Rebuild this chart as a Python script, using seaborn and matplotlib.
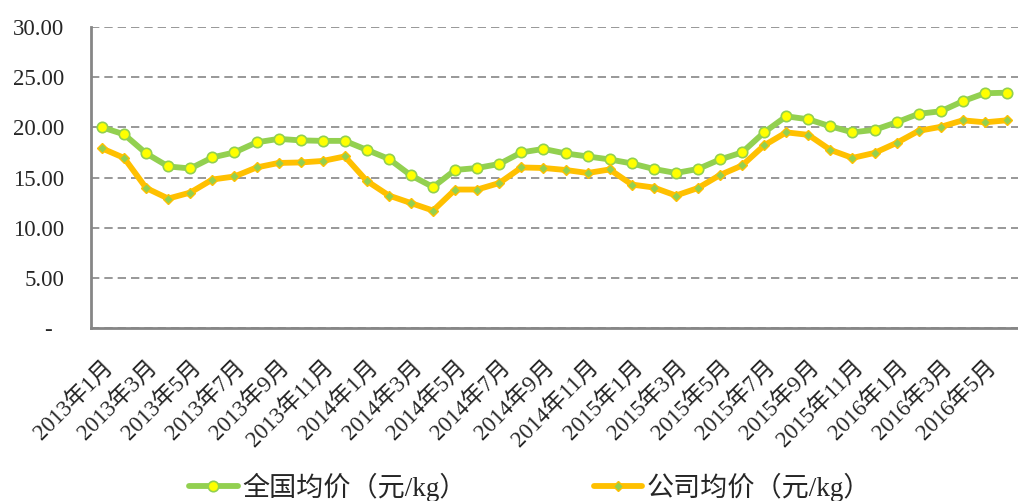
import matplotlib
matplotlib.use("Agg")
import matplotlib.pyplot as plt
import seaborn as sns
import pandas as pd
from matplotlib.lines import Line2D

months = [
    "2013年1月", "2013年2月", "2013年3月", "2013年4月", "2013年5月", "2013年6月",
    "2013年7月", "2013年8月", "2013年9月", "2013年10月", "2013年11月", "2013年12月",
    "2014年1月", "2014年2月", "2014年3月", "2014年4月", "2014年5月", "2014年6月",
    "2014年7月", "2014年8月", "2014年9月", "2014年10月", "2014年11月", "2014年12月",
    "2015年1月", "2015年2月", "2015年3月", "2015年4月", "2015年5月", "2015年6月",
    "2015年7月", "2015年8月", "2015年9月", "2015年10月", "2015年11月", "2015年12月",
    "2016年1月", "2016年2月", "2016年3月", "2016年4月", "2016年5月", "2016年6月",
]
national = [20.0, 19.3, 17.4, 16.1, 15.9, 17.0, 17.5, 18.5, 18.85, 18.7, 18.65, 18.65,
            17.75, 16.85, 15.2, 14.05, 15.75, 15.95, 16.35, 17.5, 17.85, 17.4, 17.1, 16.8,
            16.4, 15.85, 15.45, 15.85, 16.8, 17.5, 19.5, 21.1, 20.8, 20.1, 19.5, 19.75,
            20.5, 21.35, 21.6, 22.6, 23.4, 23.45]
company = [17.9, 16.95, 13.95, 12.9, 13.5, 14.8, 15.1, 16.0, 16.45, 16.5, 16.65, 17.1,
           14.65, 13.2, 12.45, 11.7, 13.8, 13.8, 14.45, 16.0, 15.95, 15.75, 15.45, 15.8,
           14.3, 14.0, 13.2, 13.95, 15.25, 16.2, 18.2, 19.5, 19.25, 17.75, 16.95, 17.45,
           18.45, 19.65, 20.05, 20.7, 20.5, 20.7]
series_names = ["全国均价（元/kg）", "公司均价（元/kg）"]
yticks = [0, 5, 10, 15, 20, 25, 30]
ytick_labels = ["-  ", "5.00", "10.00", "15.00", "20.00", "25.00", "30.00"]

sns.set_style("white")
plt.rcParams['font.family'] = ['Liberation Serif', 'Noto Sans CJK SC', 'DejaVu Sans']

GREEN = "#92D050"
ORANGE = "#FFC000"
GRAY = "#868686"

df = pd.DataFrame({"idx": list(range(len(months))), "month": months,
                   "national": national, "company": company})

fig = plt.figure(figsize=(10.18, 5.01), dpi=100)
ax = fig.add_axes([91 / 1018, (501 - 328) / 501, 1 - 91 / 1018, 301 / 501])

sns.lineplot(data=df, x="idx", y="national", ax=ax, color=GREEN, linewidth=4.2,
             marker="o", markersize=7.5, markerfacecolor="#FFFF00",
             markeredgecolor=GREEN, markeredgewidth=1.2, clip_on=False)
sns.lineplot(data=df, x="idx", y="company", ax=ax, color=ORANGE, linewidth=4.2,
             marker="D", markersize=5, markerfacecolor=GREEN,
             markeredgecolor=ORANGE, markeredgewidth=1.0, clip_on=False)

ax.set_xlim(-0.5, 41.07)
ax.set_ylim(0, 30)
ax.set_yticks(yticks)
ax.set_yticklabels(ytick_labels, fontsize=16.5)
ax.tick_params(axis="y", length=7, width=1.3, color=GRAY, direction="out", pad=12)

ax.set_xticks(list(range(0, len(months), 2)))
ax.set_xticklabels(months[::2], fontsize=16.5, rotation=45, ha="right",
                   rotation_mode="anchor")
ax.set_xticks([i - 0.5 for i in range(len(months) + 1)], minor=True)
ax.tick_params(axis="x", which="major", length=0, pad=20)
ax.tick_params(axis="x", which="minor", length=6, width=1.3, color=GRAY, direction="out")

ax.set_xlabel("")
ax.set_ylabel("")
ax.yaxis.grid(True, color=GRAY, linestyle=(0, (5, 3)), linewidth=1.2)
ax.xaxis.grid(False)
for s in ["top", "right"]:
    ax.spines[s].set_visible(False)
for s in ["left", "bottom"]:
    ax.spines[s].set_color(GRAY)
    ax.spines[s].set_linewidth(2)
ax.set_axisbelow(True)

handles = [
    Line2D([], [], color=GREEN, linewidth=4.2, marker="o", markersize=7.5,
           markerfacecolor="#FFFF00", markeredgecolor=GREEN, markeredgewidth=1.2),
    Line2D([], [], color=ORANGE, linewidth=4.2, marker="D", markersize=5,
           markerfacecolor=GREEN, markeredgecolor=ORANGE, markeredgewidth=1.0),
]
fig.legend(handles, series_names, loc="center", bbox_to_anchor=(530 / 1018, 14 / 501),
           ncol=2, frameon=False, fontsize=19.5, handlelength=1.8, handletextpad=0.15,
           columnspacing=4.7)

fig.savefig("out.png", dpi=100)
